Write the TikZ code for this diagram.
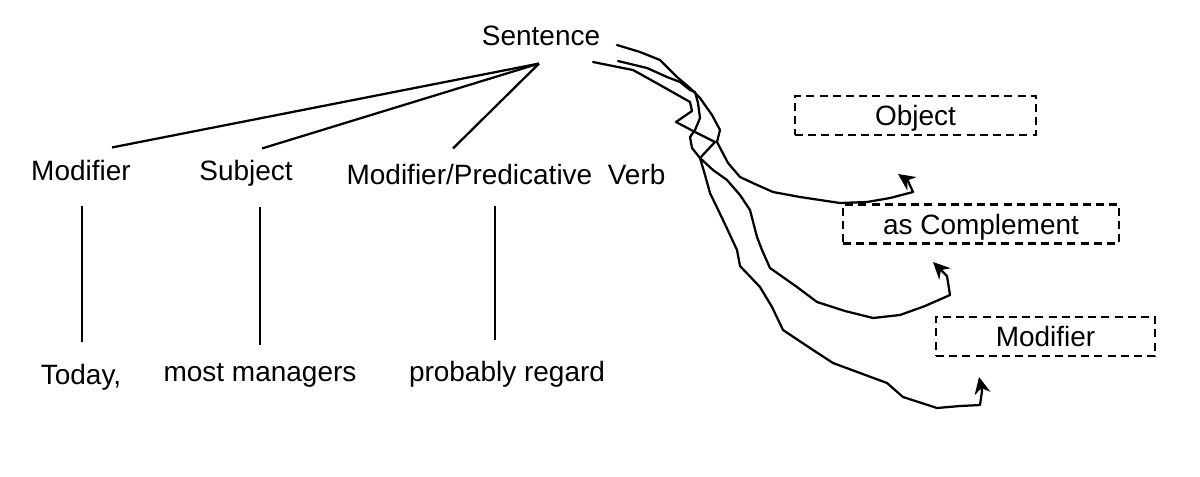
\documentclass[tikz,border=0pt]{standalone}
\usepackage{fontspec}
\setmainfont{Liberation Sans}
\usetikzlibrary{calc,arrows.meta}

\begin{document}
\begin{tikzpicture}[x=0.025cm,y=-0.025cm,
    main node/.style={font=\fontsize{19.9}{24}\selectfont, inner sep=0pt, anchor=base},
    slot node/.style={font=\fontsize{19.9}{24}\selectfont, draw, line width=1.5pt,
      dash pattern=on 0.2cm off 0.13cm, inner sep=0pt, text height=0.5cm,
      text depth=0cm, minimum height=0.975cm},
    tree line/.style={line width=1.6pt},
    scribble/.style={line width=1.6pt, line join=round, line cap=round,
      -{Stealth[length=0.42cm,width=0.4cm]}}]
  \useasboundingbox (0,0) rectangle (1200,476);

  \node[main node] (1) at (541,45) {Sentence};
  \node[main node] (2) at (81,180) {Modifier};
  \node[main node] (3) at (246,180) {Subject};
  \node[main node] (4) at (506,184) {Modifier/Predicative\ \ Verb};
  \node[main node] (5) at (81,384) {Today,};
  \node[main node] (6) at (260,381) {most managers};
  \node[main node] (7) at (507,381) {probably regard};

  \node[slot node, minimum width=6.025cm] (8) at (915.5,115.5) {Object};
  \node[slot node, minimum width=6.9cm] (9) at (981,224) {as Complement};
  \node[slot node, minimum width=5.475cm] (10) at (1045.5,336.5) {Modifier};

  \path[tree line]
    ($(1.south)+(-2,18)$) edge ($(2.north)+(31,-12)$)
    ($(1.south)+(-2,18)$) edge ($(3.north)+(16,-11)$)
    ($(1.south)+(-2,18)$) edge ($(4.north)+(-53,-15)$)
    ($(2.south)+(1,25)$) edge ($(5.north)+(1,-21)$)
    ($(6.north |- 3.south)+(0,21)$) edge ($(6.north)+(0,-18)$)
    ($(7.north |- 4.south)+(-12,21)$) edge ($(7.north)+(-12,-20)$);

  % hand-drawn arrows
  \coordinate (a) at (617,45);
  \coordinate (b) at (593,62);
  \coordinate (c) at (618,61);
  \coordinate (ta) at (898,174);
  \coordinate (tb) at (979,377);
  \coordinate (tc) at (933,262);

  \draw[scribble] (a) -- (640,52) -- (660,60) -- (677,77) -- (690,88) -- (700,98)
    -- (712,115) -- (720,130) -- (717,142) -- (728,163) -- (740,177) -- (755,184)
    -- (773,192) -- (800,197) -- (840,203) -- (867,202) -- (890,198) -- (913,192)
    -- (908,181) -- (ta);
  \draw[scribble] (b) -- (633,70) -- (660,85) -- (690,102) -- (692,111) -- (676,122)
    -- (695,132) -- (715,142) -- (700,158) -- (705,175) -- (710,193) -- (723,220)
    -- (737,250) -- (740,266) -- (760,287) -- (772,307) -- (783,330) -- (810,348)
    -- (833,363) -- (860,373) -- (887,383) -- (903,397) -- (937,408) -- (960,406)
    -- (980,405) -- (982,391) -- (tb);
  \draw[scribble] (c) -- (647,68) -- (667,77) -- (680,82) -- (690,90) -- (695,92)
    -- (698,103) -- (700,118) -- (695,130) -- (690,137) -- (692,148) -- (700,158)
    -- (713,170) -- (727,180) -- (740,195) -- (750,210) -- (757,237) -- (762,250)
    -- (770,268) -- (797,287) -- (817,302) -- (845,311) -- (873,318) -- (900,315)
    -- (925,306) -- (950,295) -- (947,276) -- (tc);
\end{tikzpicture}
\end{document}
